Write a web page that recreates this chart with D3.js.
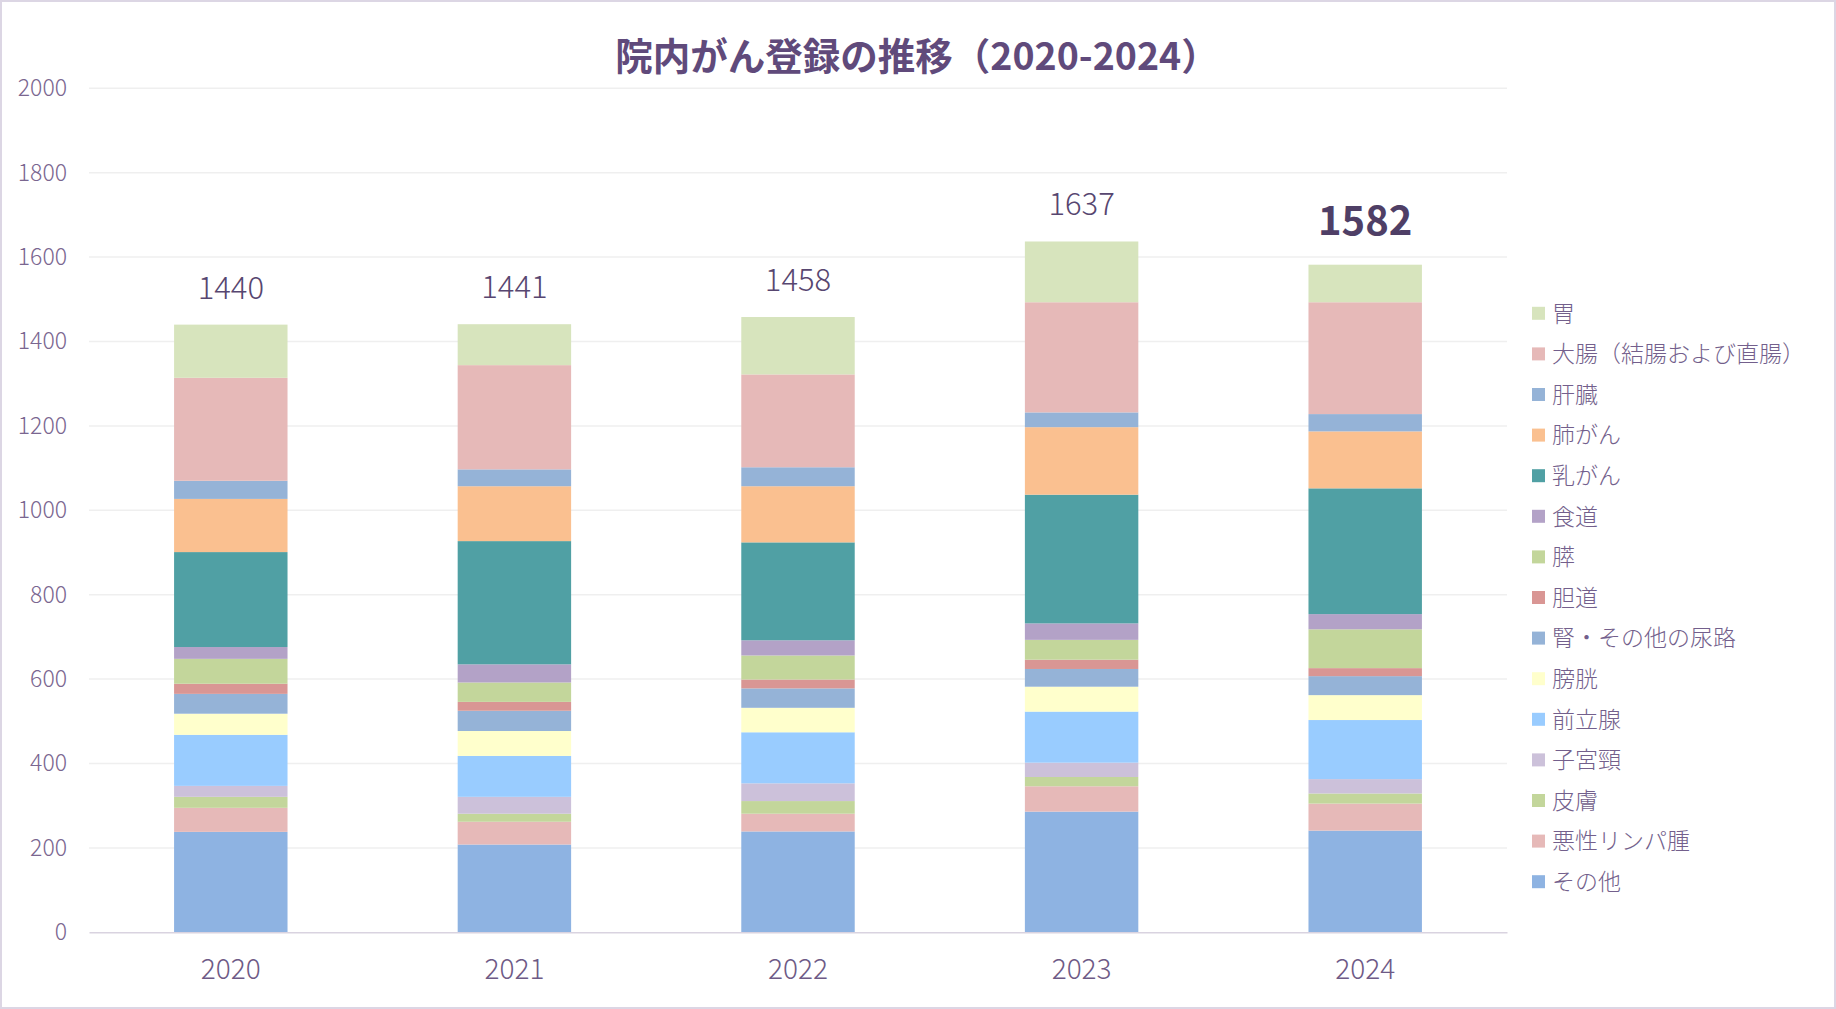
<!DOCTYPE html>
<html>
<head>
<meta charset="utf-8">
<script src="https://cdn.jsdelivr.net/npm/d3@7"></script>
<style>
  body { margin: 0; background: #fff; }
  text { font-family: "Noto Sans CJK JP", "Noto Sans", sans-serif; font-weight: 300; }
</style>
</head>
<body>
<div id="chart"></div>
<script>
// years on the x axis
const years = ["2020", "2021", "2022", "2023", "2024"];

// cancer sites, bottom of the stack first
const sites = ["その他", "悪性リンパ腫", "皮膚", "子宮頸", "前立腺", "膀胱", "腎・その他の尿路",
  "胆道", "膵", "食道", "乳がん", "肺がん", "肝臓", "大腸（結腸および直腸）", "胃"];

// counts per site, one value per year
const sonota   = [238, 208, 239, 286, 241];
const lymphoma = [57, 54, 42, 60, 64];
const hifu     = [26, 19, 30, 22, 24];
const shikyu   = [26, 40, 42, 34, 34];
const zenritsu = [121, 97, 121, 121, 140];
const bokou    = [50, 59, 58, 59, 59];
const jin      = [47, 48, 46, 42, 45];
const tandou   = [24, 21, 21, 22, 19];
const sui      = [59, 46, 57, 47, 92];
const shokudou = [28, 43, 36, 39, 36];
const nyu      = [225, 292, 232, 305, 298];
const hai      = [126, 130, 133, 160, 135];
const kanzou   = [43, 40, 45, 35, 41];
const daichou  = [244, 247, 220, 261, 265];
const i_       = [126, 97, 136, 144, 89];

const yTicks = [0, 200, 400, 600, 800, 1000, 1200, 1400, 1600, 1800, 2000];

const series = [sonota, lymphoma, hifu, shikyu, zenritsu, bokou, jin, tandou, sui, shokudou, nyu, hai, kanzou, daichou, i_];
const colors = ["#8eb3e2", "#e6b9b8", "#c3d69b", "#ccc1da", "#99ccff", "#ffffcc", "#95b3d7",
  "#d99694", "#c3d69b", "#b3a2c7", "#50a0a4", "#fac090", "#95b3d7", "#e6b9b8", "#d7e4bd"];

const width = 1836, height = 1009;
const plotLeft = 89, plotRight = 1507, plotTop = 88.3, plotBottom = 932.3;

// build table for d3.stack
const table = years.map((yr, i) => {
  const row = { year: yr };
  sites.forEach((s, j) => row[s] = series[j][i]);
  return row;
});
const totals = years.map((yr, i) => d3.sum(series, s => s[i]));

const svg = d3.select("#chart").append("svg")
  .attr("width", width)
  .attr("height", height);

svg.append("rect")
  .attr("x", 1).attr("y", 1)
  .attr("width", width - 2).attr("height", height - 2)
  .attr("fill", "#fff")
  .attr("stroke", "#dcd6e4")
  .attr("stroke-width", 2);

let x = d3.scaleBand()
  .domain(years)
  .range([plotLeft, plotRight])
  .paddingInner(0.6)
  .paddingOuter(0.3);

let y = d3.scaleLinear()
  .domain([0, 2000])
  .range([plotBottom, plotTop]);

// gridlines
svg.append("g")
  .selectAll("line")
  .data(yTicks.filter(d => d > 0))
  .enter()
  .append("line")
    .attr("x1", plotLeft)
    .attr("x2", plotRight)
    .attr("y1", d => y(d))
    .attr("y2", d => y(d))
    .attr("stroke", "#efefef")
    .attr("stroke-width", 1.5);

// y axis labels
let yAxis = svg.append("g")
  .attr("transform", `translate(${plotLeft},0)`)
  .call(d3.axisLeft(y).tickValues(yTicks).tickFormat(d3.format("d")).tickSize(0).tickPadding(22));
yAxis.select(".domain").remove();
yAxis.selectAll("text")
  .attr("fill", "#7a6690")
  .style("font-size", "23px");

// stacked bars
let stacked = d3.stack().keys(sites)(table);
svg.append("g")
  .selectAll("g")
  .data(stacked)
  .enter()
  .append("g")
    .attr("fill", (d, i) => colors[i])
  .selectAll("rect")
  .data(d => d)
  .enter()
  .append("rect")
    .attr("x", d => x(d.data.year))
    .attr("y", d => y(d[1]))
    .attr("width", x.bandwidth())
    .attr("height", d => y(d[0]) - y(d[1]));

// x axis
let xAxis = svg.append("g")
  .attr("transform", `translate(0,${plotBottom})`)
  .call(d3.axisBottom(x).tickSize(0).tickPadding(27));
xAxis.select(".domain")
  .attr("stroke", "#d9d3e0")
  .attr("stroke-width", 1.5);
xAxis.selectAll("text")
  .attr("fill", "#6e5a86")
  .style("font-size", "28px");

// totals above the bars, last year highlighted
svg.append("g")
  .selectAll("text")
  .data(totals)
  .enter()
  .append("text")
    .attr("x", (d, i) => x(years[i]) + x.bandwidth() / 2)
    .attr("y", (d, i) => y(d) - (i === years.length - 1 ? 30 : 26))
    .attr("text-anchor", "middle")
    .attr("fill", (d, i) => i === years.length - 1 ? "#4f3f66" : "#574670")
    .style("font-size", (d, i) => i === years.length - 1 ? "40px" : "31px")
    .style("font-weight", (d, i) => i === years.length - 1 ? "bold" : "300")
    .text(d => d);

// title
svg.append("text")
  .attr("x", 917)
  .attr("y", 70)
  .attr("text-anchor", "middle")
  .attr("fill", "#604a7b")
  .style("font-size", "37.5px")
  .style("font-weight", "bold")
  .text("院内がん登録の推移（2020-2024）");

// legend, top of stack first
let legendItems = sites.map((s, i) => ({ name: s, color: colors[i] })).reverse();
let legend = svg.append("g")
  .selectAll("g")
  .data(legendItems)
  .enter()
  .append("g")
    .attr("transform", (d, i) => `translate(1532,${313.3 + i * 40.6})`);
legend.append("rect")
  .attr("x", 0)
  .attr("y", -6.5)
  .attr("width", 13)
  .attr("height", 13)
  .attr("fill", d => d.color);
legend.append("text")
  .attr("x", 20)
  .attr("y", 0)
  .attr("dy", "0.36em")
  .attr("fill", "#735f8c")
  .style("font-size", "23px")
  .text(d => d.name);
</script>
</body>
</html>
